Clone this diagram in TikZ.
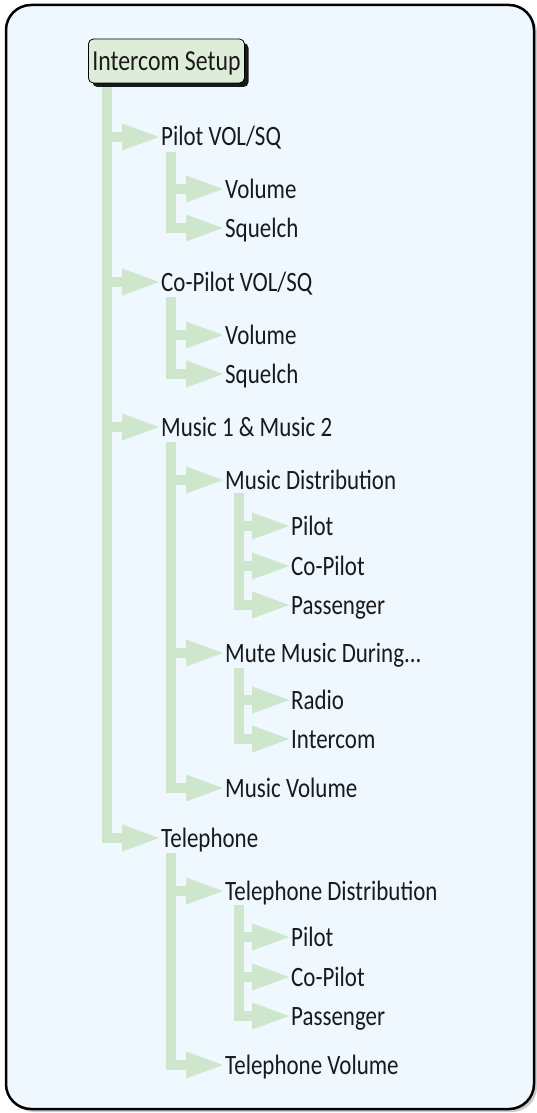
\documentclass[tikz,border=0pt]{standalone}
\usepackage{fontspec}
\setmainfont[FakeStretch=0.82]{Carlito}
\usetikzlibrary{calc,shadows}
\definecolor{bg}{HTML}{EEF8FE}
\definecolor{gr}{HTML}{CDE6CC}
\definecolor{boxfill}{HTML}{DDEDD9}
\definecolor{txt}{HTML}{1A1A1A}
\newcommand\branch[2]{%
  \draw[conn] (#1) |- ($(#2.west)+(-35,0)$);
  \fill[gr] (#2.west) -- ++(-37,-13.5) -- ++(0,27) -- cycle;}
\begin{document}
\begin{tikzpicture}[x=1pt,y=-1pt,
  item/.style={anchor=west, inner xsep=2pt, inner ysep=0pt, text height=18pt, text depth=0pt,
    font=\fontsize{28}{30}\selectfont, text=txt},
  conn/.style={draw=gr, line width=10pt, line join=miter},
]
\useasboundingbox (0,0) rectangle (537,1113);
% frame
\fill[gray!40, rounded corners=25pt] (9,8) rectangle (537,1112);
\draw[line width=2.5pt, fill=bg, rounded corners=25pt] (6,5) rectangle (534,1109);
% root
\node[draw, line width=0.8pt, fill=boxfill, rounded corners=5pt, anchor=west, inner xsep=4pt,
  minimum height=44pt, text height=18.5pt, text depth=0pt, font=\fontsize{29}{30}\selectfont, text=txt,
  drop shadow={shadow xshift=4pt, shadow yshift=-4pt, fill=black, opacity=0.9}] (root) at (88,61) {Intercom Setup};
% level 1
\node[item] (pvs) at (159,137) {Pilot VOL/SQ};
\node[item] (cvs) at (159,282) {Co-Pilot VOL/SQ};
\node[item] (mus) at (159,427) {Music 1 \& Music 2};
\node[item] (tel) at (159,838) {Telephone};
% level 2
\node[item] (pvol) at (223,189) {Volume};
\node[item] (psq) at (223,228) {Squelch};
\node[item] (cvol) at (223,335) {Volume};
\node[item] (csq) at (223,374) {Squelch};
\node[item] (mdist) at (223,480) {Music Distribution};
\node[item] (mute) at (223,653) {Mute Music During...};
\node[item] (mvol) at (223,788) {Music Volume};
\node[item] (tdist) at (223,891) {Telephone Distribution};
\node[item] (tvol) at (223,1065) {Telephone Volume};
% level 3
\node[item] (mp) at (289,526) {Pilot};
\node[item] (mc) at (289,566) {Co-Pilot};
\node[item] (mpa) at (289,605) {Passenger};
\node[item] (rad) at (289,700) {Radio};
\node[item] (icm) at (289,739) {Intercom};
\node[item] (tp) at (289,937) {Pilot};
\node[item] (tc) at (289,977) {Co-Pilot};
\node[item] (tpa) at (289,1016) {Passenger};
% connectors
\coordinate (r0) at ($(root.south west)+(19,4)$);
\foreach \c in {pvs,cvs,mus,tel} {\branch{r0}{\c}}
\coordinate (p0) at ($(pvs.west)+(12,15)$);
\foreach \c in {pvol,psq} {\branch{p0}{\c}}
\coordinate (c0) at ($(cvs.west)+(12,15)$);
\foreach \c in {cvol,csq} {\branch{c0}{\c}}
\coordinate (m0) at ($(mus.west)+(12,15)$);
\foreach \c in {mdist,mute,mvol} {\branch{m0}{\c}}
\coordinate (t0) at ($(tel.west)+(12,15)$);
\foreach \c in {tdist,tvol} {\branch{t0}{\c}}
\coordinate (d0) at ($(mdist.west)+(15.5,13)$);
\foreach \c in {mp,mc,mpa} {\branch{d0}{\c}}
\coordinate (u0) at ($(mute.west)+(15.5,15)$);
\foreach \c in {rad,icm} {\branch{u0}{\c}}
\coordinate (e0) at ($(tdist.west)+(15.5,14)$);
\foreach \c in {tp,tc,tpa} {\branch{e0}{\c}}
\end{tikzpicture}
\end{document}
